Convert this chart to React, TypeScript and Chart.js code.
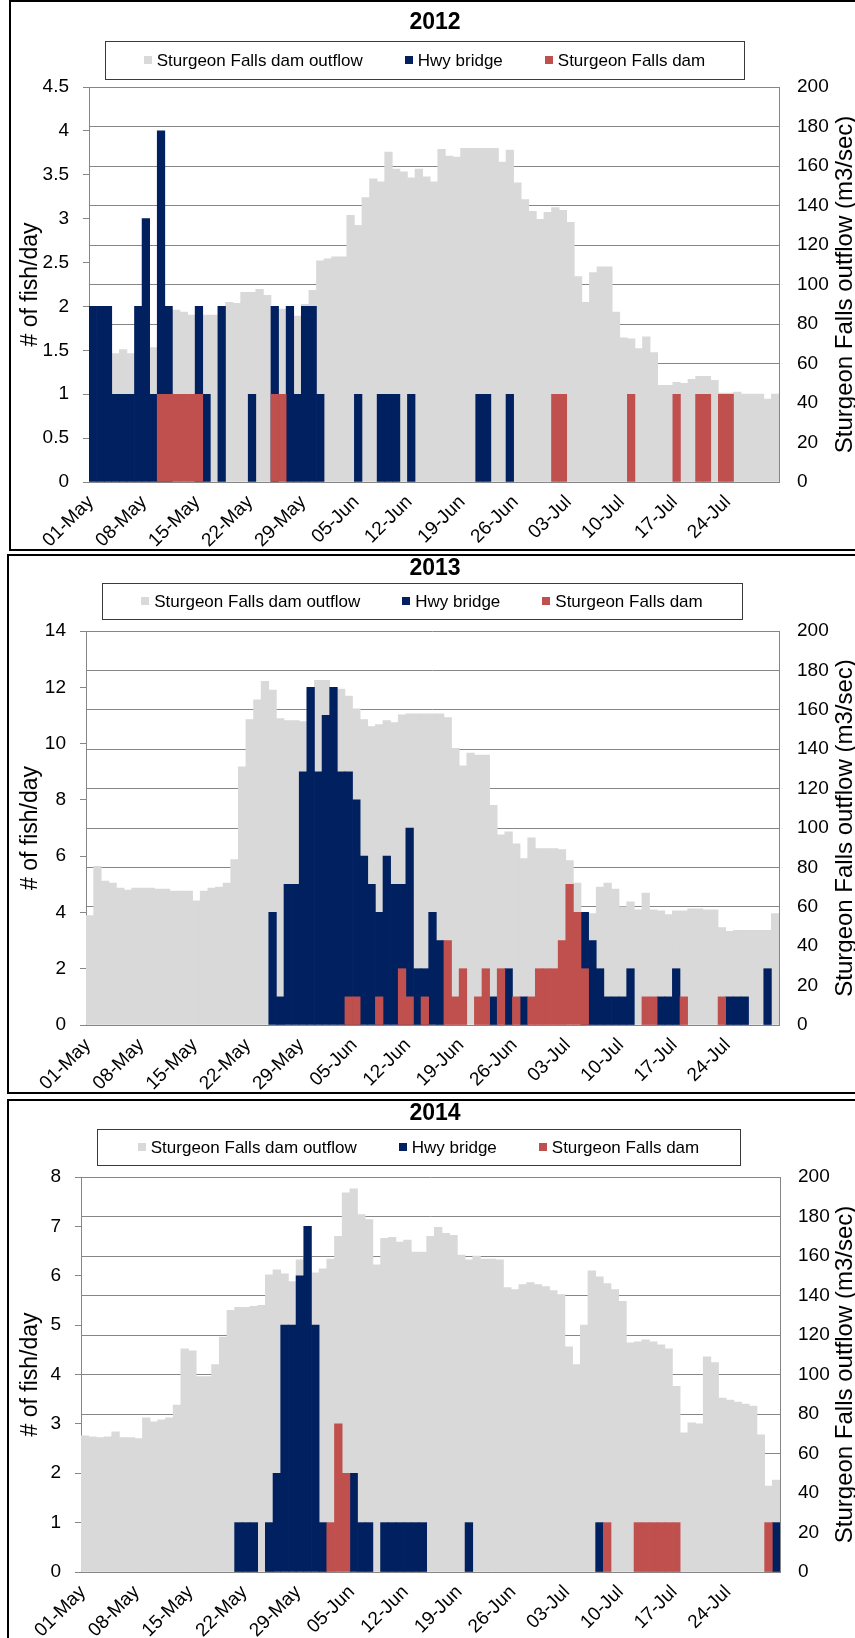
import { useEffect, useRef } from 'react';
import { Chart, registerables } from 'chart.js';

Chart.register(...registerables);

const FONT = "'Liberation Sans', Arial, Helvetica, sans-serif";
Chart.defaults.font.family = FONT;
Chart.defaults.color = '#000';

// ---- categories: one bar per day, 1 May – 30 Jul ----
const MONTHS: [string, number][] = [['May', 31], ['Jun', 30], ['Jul', 30]];
const DAYS: string[] = MONTHS.flatMap(([m, n]) =>
  Array.from({ length: n }, (_, d) => `${String(d + 1).padStart(2, '0')}-${m}`)
);
const TICK_LABELS = [
  '01-May', '08-May', '15-May', '22-May', '29-May', '05-Jun', '12-Jun',
  '19-Jun', '26-Jun', '03-Jul', '10-Jul', '17-Jul', '24-Jul',
];

const SERIES_NAMES = ['Sturgeon Falls dam outflow', 'Hwy bridge', 'Sturgeon Falls dam'];

// ---- 2012 ----
const OUTFLOW_2012 = [
  74, 72, 68, 65, 67, 65, 66, 67, 68, 78,
  86, 87, 86, 84.5, 84.5, 84.5, 84.5, 88, 91, 90.5,
  96, 96, 97.5, 94.5, 87, 87.5, 86, 84, 90, 97,
  112, 113, 114, 114, 135, 130, 144, 153.5, 152, 167,
  158.5, 157, 154, 158.5, 154.5, 152, 168.5, 165, 164.5, 169,
  169, 169, 169, 169, 162, 168, 151.5, 143, 137, 133,
  136.5, 139, 137.5, 131.5, 104, 91, 106, 109, 109, 86,
  73, 72.5, 67.5, 73.5, 65.5, 49, 49, 50.5, 50, 52,
  53.5, 53.5, 51.5, 45, 45, 45.5, 44.5, 44.5, 44.5, 42, 44.5,
];
const HWY_2012 = [
  2, 2, 2, 1, 1, 1, 2, 3, 1, 4,
  2, 0, 0, 0, 2, 1, 0, 2, 0, 0,
  0, 1, 0, 0, 2, 0, 2, 1, 2, 2,
  1, 0, 0, 0, 0, 1, 0, 0, 1, 1,
  1, 0, 1, 0, 0, 0, 0, 0, 0, 0,
  0, 1, 1, 0, 0, 1, 0, 0, 0, 0,
  0, 0, 0, 0, 0, 0, 0, 0, 0, 0,
  0, 0, 0, 0, 0, 0, 0, 0, 0, 0,
  0, 0, 0, 0, 0, 0, 0, 0, 0, 0, 0,
];
const DAM_2012 = [
  0, 0, 0, 0, 0, 0, 0, 0, 0, 1,
  1, 1, 1, 1, 1, 0, 0, 0, 0, 0,
  0, 0, 0, 0, 1, 1, 0, 0, 0, 0,
  0, 0, 0, 0, 0, 0, 0, 0, 0, 0,
  0, 0, 0, 0, 0, 0, 0, 0, 0, 0,
  0, 0, 0, 0, 0, 0, 0, 0, 0, 0,
  0, 1, 1, 0, 0, 0, 0, 0, 0, 0,
  0, 1, 0, 0, 0, 0, 0, 1, 0, 0,
  1, 1, 0, 1, 1, 0, 0, 0, 0, 0, 0,
];

// ---- 2013 ----
const OUTFLOW_2013 = [
  55.5, 80.5, 73, 72, 69.5, 68.5, 69.5, 69.5, 69.5, 69,
  69, 68, 68, 68, 63, 68, 69.5, 70, 72, 84,
  131, 155, 165, 174.5, 170, 155.5, 154.5, 154.5, 154, 170,
  175, 175, 170, 170.5, 167, 160.5, 155, 151.5, 152.5, 154.5,
  153.5, 157.5, 158, 158, 158, 158, 158, 156, 140.5, 131.5,
  138, 137, 137, 111.5, 96.5, 98, 92, 84.5, 95, 89.5,
  89.5, 89.5, 89, 83.5, 72, 57, 56.5, 70, 72, 69,
  60, 62.5, 58.5, 67, 58.5, 58, 56, 58, 58, 59,
  59, 58.5, 58.5, 49.5, 47.5, 48, 48, 48, 48, 48, 56.5,
];
const HWY_2013 = [
  0, 0, 0, 0, 0, 0, 0, 0, 0, 0,
  0, 0, 0, 0, 0, 0, 0, 0, 0, 0,
  0, 0, 0, 0, 4, 1, 5, 5, 9, 12,
  9, 11, 12, 9, 9, 8, 6, 5, 4, 6,
  5, 5, 7, 2, 2, 4, 3, 0, 0, 0,
  0, 0, 0, 1, 0, 2, 0, 1, 0, 0,
  0, 0, 0, 0, 0, 4, 3, 2, 1, 1,
  1, 2, 0, 0, 0, 1, 1, 2, 0, 0,
  0, 0, 0, 0, 1, 1, 1, 0, 0, 2, 0,
];
const DAM_2013 = [
  0, 0, 0, 0, 0, 0, 0, 0, 0, 0,
  0, 0, 0, 0, 0, 0, 0, 0, 0, 0,
  0, 0, 0, 0, 0, 0, 0, 0, 0, 0,
  0, 0, 0, 0, 1, 1, 0, 0, 1, 0,
  0, 2, 1, 0, 1, 0, 0, 3, 1, 2,
  0, 1, 2, 0, 2, 0, 1, 0, 1, 2,
  2, 2, 3, 5, 4, 2, 0, 0, 0, 0,
  0, 0, 0, 1, 1, 0, 0, 0, 1, 0,
  0, 0, 0, 1, 0, 0, 0, 0, 0, 0, 0,
];

// ---- 2014 ----
const OUTFLOW_2014 = [
  69, 68.5, 68, 68.5, 71, 68, 68, 67.5, 78, 76,
  77, 78, 84.5, 113, 112, 99, 99, 105, 119, 132.5,
  134, 134, 134.5, 135, 150.5, 153, 151, 147, 158, 160,
  151.5, 153.5, 158.5, 170, 192, 194, 181, 178.5, 155.5, 169,
  169.5, 167, 168, 162, 162, 170, 174.5, 171.5, 170.5, 160.5,
  158, 160, 158.5, 158.5, 158, 144, 143, 145.5, 146.5, 145.5,
  144.5, 142.5, 140.5, 114, 105, 125, 152.5, 149.5, 146, 143,
  137, 116, 116.5, 117.5, 116.5, 115, 113, 94, 70.5, 75.5,
  75, 109, 106, 88, 87, 86, 85, 84, 69.5, 43.5, 46.5,
];
const HWY_2014 = [
  0, 0, 0, 0, 0, 0, 0, 0, 0, 0,
  0, 0, 0, 0, 0, 0, 0, 0, 0, 0,
  1, 1, 1, 0, 1, 2, 5, 5, 6, 7,
  5, 1, 0, 0, 0, 2, 1, 1, 0, 1,
  1, 1, 1, 1, 1, 0, 0, 0, 0, 0,
  1, 0, 0, 0, 0, 0, 0, 0, 0, 0,
  0, 0, 0, 0, 0, 0, 0, 1, 0, 0,
  0, 0, 0, 0, 0, 0, 0, 0, 0, 0,
  0, 0, 0, 0, 0, 0, 0, 0, 0, 0, 1,
];
const DAM_2014 = [
  0, 0, 0, 0, 0, 0, 0, 0, 0, 0,
  0, 0, 0, 0, 0, 0, 0, 0, 0, 0,
  0, 0, 0, 0, 0, 0, 0, 0, 0, 0,
  0, 0, 1, 3, 2, 0, 0, 0, 0, 0,
  0, 0, 0, 0, 0, 0, 0, 0, 0, 0,
  0, 0, 0, 0, 0, 0, 0, 0, 0, 0,
  0, 0, 0, 0, 0, 0, 0, 0, 1, 0,
  0, 0, 1, 1, 1, 1, 1, 1, 0, 0,
  0, 0, 0, 0, 0, 0, 0, 0, 0, 1, 0,
];

// ---- styling ----
const GRAY = '#d9d9d9';
const NAVY = '#002060';
const RED = '#c0504d';
const AXIS = '#868686';
const CANVAS_W = 870;
const LEFT_TITLE_SIZE = 23;
const RIGHT_TITLE_SIZE = 24;

type Box = { x0: number; x1: number; y0: number; y1: number };
type PanelLayout = {
  left: number;
  top: number;
  height: number;
  area: { l: number; r: number; t: number; b: number };
  titleX: number;
  titleY: number;
  legend: Box;
  leftTitlePad: number;
  rightTitleX: number;
};
type PanelSpec = {
  year: string;
  outflow: number[];
  hwy: number[];
  dam: number[];
  fishMax: number;
  fishStep: number;
  layout: PanelLayout;
};

const PANELS: PanelSpec[] = [
  {
    year: '2012', outflow: OUTFLOW_2012, hwy: HWY_2012, dam: DAM_2012, fishMax: 4.5, fishStep: 0.5,
    layout: {
      left: 9, top: 0, height: 547,
      area: { l: 78, r: 768, t: 85, b: 480 },
      titleX: 424, titleY: 21,
      legend: { x0: 94, x1: 733, y0: 39, y1: 77 },
      leftTitlePad: 6, rightTitleX: 834,
    },
  },
  {
    year: '2013', outflow: OUTFLOW_2013, hwy: HWY_2013, dam: DAM_2013, fishMax: 14, fishStep: 2,
    layout: {
      left: 7, top: 554, height: 536,
      area: { l: 77, r: 770, t: 75, b: 469 },
      titleX: 426, titleY: 13,
      legend: { x0: 93, x1: 733, y0: 27, y1: 63 },
      leftTitlePad: 8, rightTitleX: 836,
    },
  },
  {
    year: '2014', outflow: OUTFLOW_2014, hwy: HWY_2014, dam: DAM_2014, fishMax: 8, fishStep: 1,
    layout: {
      left: 7, top: 1099, height: 560,
      area: { l: 72, r: 771, t: 76, b: 471 },
      titleX: 426, titleY: 13,
      legend: { x0: 88, x1: 731, y0: 28, y1: 64 },
      leftTitlePad: 8, rightTitleX: 836,
    },
  },
];

// Draws the year heading, the framed legend and the secondary axis title.
const panelHeader = {
  id: 'panelHeader',
  afterDraw(chart: any, _args: any, opts: any) {
    const { ctx, chartArea } = chart;
    ctx.save();

    ctx.fillStyle = '#000';
    ctx.font = `bold 23px ${FONT}`;
    ctx.textAlign = 'center';
    ctx.textBaseline = 'middle';
    ctx.fillText(opts.title, opts.titleX, opts.titleY);

    const { x0, x1, y0, y1 } = opts.legend as Box;
    ctx.strokeStyle = '#3a3a3a';
    ctx.lineWidth = 1;
    ctx.strokeRect(Math.round(x0) + 0.5, Math.round(y0) + 0.5, Math.round(x1 - x0), Math.round(y1 - y0));

    ctx.font = `17px ${FONT}`;
    const items = chart.data.datasets.map((d: any) => ({ text: d.label, color: d.backgroundColor }));
    const sq = 8;
    const gapText = 5;
    const gapItem = 42;
    const widths = items.map((it: any) => ctx.measureText(it.text).width);
    const total =
      widths.reduce((a: number, w: number) => a + sq + gapText + w, 0) + gapItem * (items.length - 1);
    let x = (x0 + x1) / 2 - total / 2;
    const cy = (y0 + y1) / 2;
    ctx.textAlign = 'left';
    items.forEach((it: any, i: number) => {
      ctx.fillStyle = it.color;
      ctx.fillRect(Math.round(x), Math.round(cy - sq / 2), sq, sq);
      x += sq + gapText;
      ctx.fillStyle = '#000';
      ctx.fillText(it.text, x, cy + 1);
      x += widths[i] + gapItem;
    });

    ctx.translate(opts.rightTitleX, (chartArea.top + chartArea.bottom) / 2);
    ctx.rotate(-Math.PI / 2);
    ctx.font = `${RIGHT_TITLE_SIZE}px ${FONT}`;
    ctx.textAlign = 'center';
    ctx.fillStyle = '#000';
    ctx.fillText(opts.rightTitle, 0, 0);

    ctx.restore();
  },
};

function Panel({ spec }: { spec: PanelSpec }) {
  const ref = useRef<HTMLCanvasElement>(null);
  const L = spec.layout;

  useEffect(() => {
    const canvas = ref.current;
    if (!canvas) return;
    const orNull = (v: number) => (v ? v : null);
    const chart = new Chart(canvas, {
      type: 'bar',
      data: {
        labels: DAYS,
        datasets: [
          {
            label: SERIES_NAMES[0], data: spec.outflow, backgroundColor: GRAY,
            yAxisID: 'flow', order: 3, grouped: false,
          },
          {
            label: SERIES_NAMES[1], data: spec.hwy.map(orNull), backgroundColor: NAVY,
            yAxisID: 'fish', order: 2, grouped: false,
          },
          {
            label: SERIES_NAMES[2], data: spec.dam.map(orNull), backgroundColor: RED,
            yAxisID: 'fish', order: 1, grouped: false,
          },
        ] as any,
      },
      options: {
        responsive: false,
        maintainAspectRatio: false,
        animation: false,
        devicePixelRatio: 1,
        events: [],
        datasets: { bar: { barPercentage: 1, categoryPercentage: 1, borderWidth: 0 } },
        layout: { padding: { top: L.area.t, left: 0, right: 0, bottom: 0 } },
        plugins: {
          legend: { display: false },
          title: { display: false },
          tooltip: { enabled: false },
          panelHeader: {
            title: spec.year,
            titleX: L.titleX,
            titleY: L.titleY,
            legend: L.legend,
            rightTitle: 'Sturgeon Falls outflow (m3/sec)',
            rightTitleX: L.rightTitleX,
          },
        } as any,
        scales: {
          x: {
            type: 'category',
            offset: true,
            grid: { display: false, drawTicks: false },
            border: { display: true, color: AXIS },
            ticks: {
              autoSkip: false,
              maxRotation: 45,
              minRotation: 45,
              padding: 9,
              labelOffset: -2,
              color: '#000',
              font: { size: 19 },
              callback: (_v: any, i: number) => (TICK_LABELS.includes(DAYS[i]) ? DAYS[i] : null),
            },
            afterFit: (s: any) => {
              s.height = L.height - L.area.b;
            },
          },
          fish: {
            type: 'linear',
            position: 'left',
            min: 0,
            max: spec.fishMax,
            ticks: {
              stepSize: spec.fishStep,
              padding: 14,
              color: '#000',
              font: { size: 19 },
              callback: (v: any) => String(v),
            },
            grid: { drawOnChartArea: false, drawTicks: true, tickLength: 6, color: AXIS },
            border: { display: true, color: AXIS },
            title: {
              display: true,
              text: '# of fish/day',
              color: '#000',
              font: { size: LEFT_TITLE_SIZE },
              padding: { top: L.leftTitlePad, bottom: 0 },
            },
            afterFit: (s: any) => {
              s.width = L.area.l;
            },
          },
          flow: {
            type: 'linear',
            position: 'right',
            min: 0,
            max: 200,
            ticks: { stepSize: 20, padding: 18, color: '#000', font: { size: 19 } },
            grid: { drawOnChartArea: true, drawTicks: false, color: AXIS },
            border: { display: true, color: AXIS },
            afterFit: (s: any) => {
              s.width = CANVAS_W - L.area.r;
            },
          },
        },
      } as any,
      plugins: [panelHeader],
    });
    return () => chart.destroy();
  }, [spec]);

  return (
    <div
      style={{
        position: 'absolute',
        left: L.left,
        top: L.top,
        width: CANVAS_W,
        height: L.height,
        border: '2px solid #000',
        background: '#fff',
      }}
    >
      <canvas
        ref={ref}
        width={CANVAS_W}
        height={L.height}
        style={{ display: 'block', width: CANVAS_W, height: L.height }}
      />
    </div>
  );
}

export default function App() {
  return (
    <div
      style={{
        position: 'fixed',
        left: 0,
        top: 0,
        width: 855,
        height: 1638,
        overflow: 'hidden',
        background: '#fff',
      }}
    >
      {PANELS.map((p) => (
        <Panel key={p.year} spec={p} />
      ))}
    </div>
  );
}
